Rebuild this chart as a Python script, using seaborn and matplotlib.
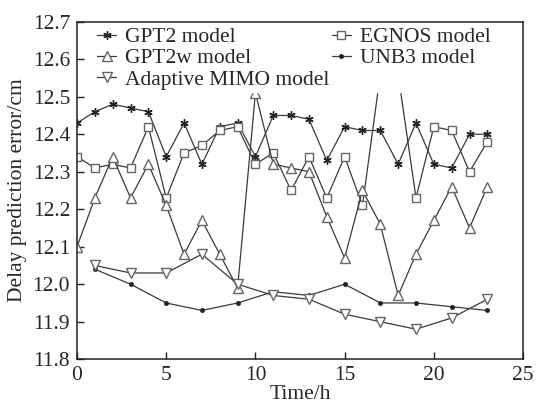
import numpy as np
import pandas as pd
import seaborn as sns
import matplotlib.pyplot as plt

# horas do dia
hours = list(range(24))
odd_hours = list(range(1, 24, 2))

gpt2 = [12.43, 12.46, 12.48, 12.47, 12.46, 12.34, 12.43, 12.32, 12.42, 12.43,
        12.34, 12.45, 12.45, 12.44, 12.33, 12.42, 12.41, 12.41, 12.32, 12.43,
        12.32, 12.31, 12.40, 12.40]
egnos = [12.34, 12.31, 12.32, 12.31, 12.42, 12.23, 12.35, 12.37, 12.41, 12.42,
         12.32, 12.35, 12.25, 12.34, 12.23, 12.34, 12.21, 12.56, 12.56, 12.23,
         12.42, 12.41, 12.30, 12.38]
gpt2w = [12.10, 12.23, 12.34, 12.23, 12.32, 12.21, 12.08, 12.17, 12.08, 11.99,
         12.51, 12.32, 12.31, 12.30, 12.18, 12.07, 12.25, 12.16, 11.97, 12.08,
         12.17, 12.26, 12.15, 12.26]
unb3 = [12.04, 12.00, 11.95, 11.93, 11.95, 11.98, 11.97, 12.00, 11.95, 11.95,
        11.94, 11.93]
mimo = [12.05, 12.03, 12.03, 12.08, 12.00, 11.97, 11.96, 11.92, 11.90, 11.88,
        11.91, 11.96]

sns.set_style("ticks")
plt.rcParams['font.family'] = ['Liberation Serif', 'DejaVu Serif']
plt.rcParams['xtick.direction'] = 'in'
plt.rcParams['ytick.direction'] = 'in'

fig = plt.figure(figsize=(5.36, 4.07), dpi=100)
ax = fig.add_axes([0.1437, 0.1174, 0.8321, 0.8292])

lc = '#3a3a3a'
mc = '#666666'
sns.lineplot(x=hours, y=gpt2, ax=ax, color=lc, lw=0.9, marker=(6, 2, 0), markersize=6,
             markeredgecolor='#222222', markeredgewidth=1.0, label='GPT2 model')
sns.lineplot(x=hours, y=egnos, ax=ax, color=lc, lw=0.9, marker='s', markersize=6,
             markerfacecolor='white', markeredgecolor=mc, markeredgewidth=1.0,
             label='EGNOS model')
sns.lineplot(x=hours, y=gpt2w, ax=ax, color=lc, lw=0.9, marker='^', markersize=7,
             markerfacecolor='white', markeredgecolor=mc, markeredgewidth=1.0,
             label='GPT2w model')
sns.lineplot(x=odd_hours, y=unb3, ax=ax, color=lc, lw=0.9, marker='o', markersize=3,
             markerfacecolor='#222222', markeredgecolor='#222222', markeredgewidth=0.5,
             label='UNB3 model')
sns.lineplot(x=odd_hours, y=mimo, ax=ax, color=lc, lw=0.9, marker='v', markersize=7,
             markerfacecolor='white', markeredgecolor=mc, markeredgewidth=1.0,
             label='Adaptive MIMO model')

handles, labels = ax.get_legend_handles_labels()
ordem = ['GPT2 model', 'GPT2w model', 'Adaptive MIMO model', 'EGNOS model', 'UNB3 model']
hs = [handles[labels.index(l)] for l in ordem]
leg = ax.legend(hs, ordem, ncol=2, loc='upper left', bbox_to_anchor=(0.04, 0.99),
                frameon=True, framealpha=1, edgecolor='white', fancybox=False,
                borderpad=0.1, borderaxespad=0, labelspacing=0.05, handlelength=0.9,
                handletextpad=0.4, columnspacing=0.1, fontsize=15.5)

ax.set_xlim(0, 25)
ax.set_ylim(11.8, 12.7)
ax.set_xticks([0, 5, 10, 15, 20, 25])
ax.set_yticks(np.arange(11.8, 12.71, 0.1))
ax.set_yticklabels([f'{v:.1f}' for v in np.arange(11.8, 12.71, 0.1)])
ax.tick_params(labelsize=15.5, length=5, width=1, color='#222222', pad=5,
               top=False, right=False)
ax.set_xlabel('Time/h', fontsize=15.5, labelpad=0)
ax.set_ylabel('Delay prediction error/cm', fontsize=15.5, labelpad=4)
for s in ax.spines.values():
    s.set_color('#222222')
    s.set_linewidth(1.1)

plt.savefig('out.png', dpi=100)
